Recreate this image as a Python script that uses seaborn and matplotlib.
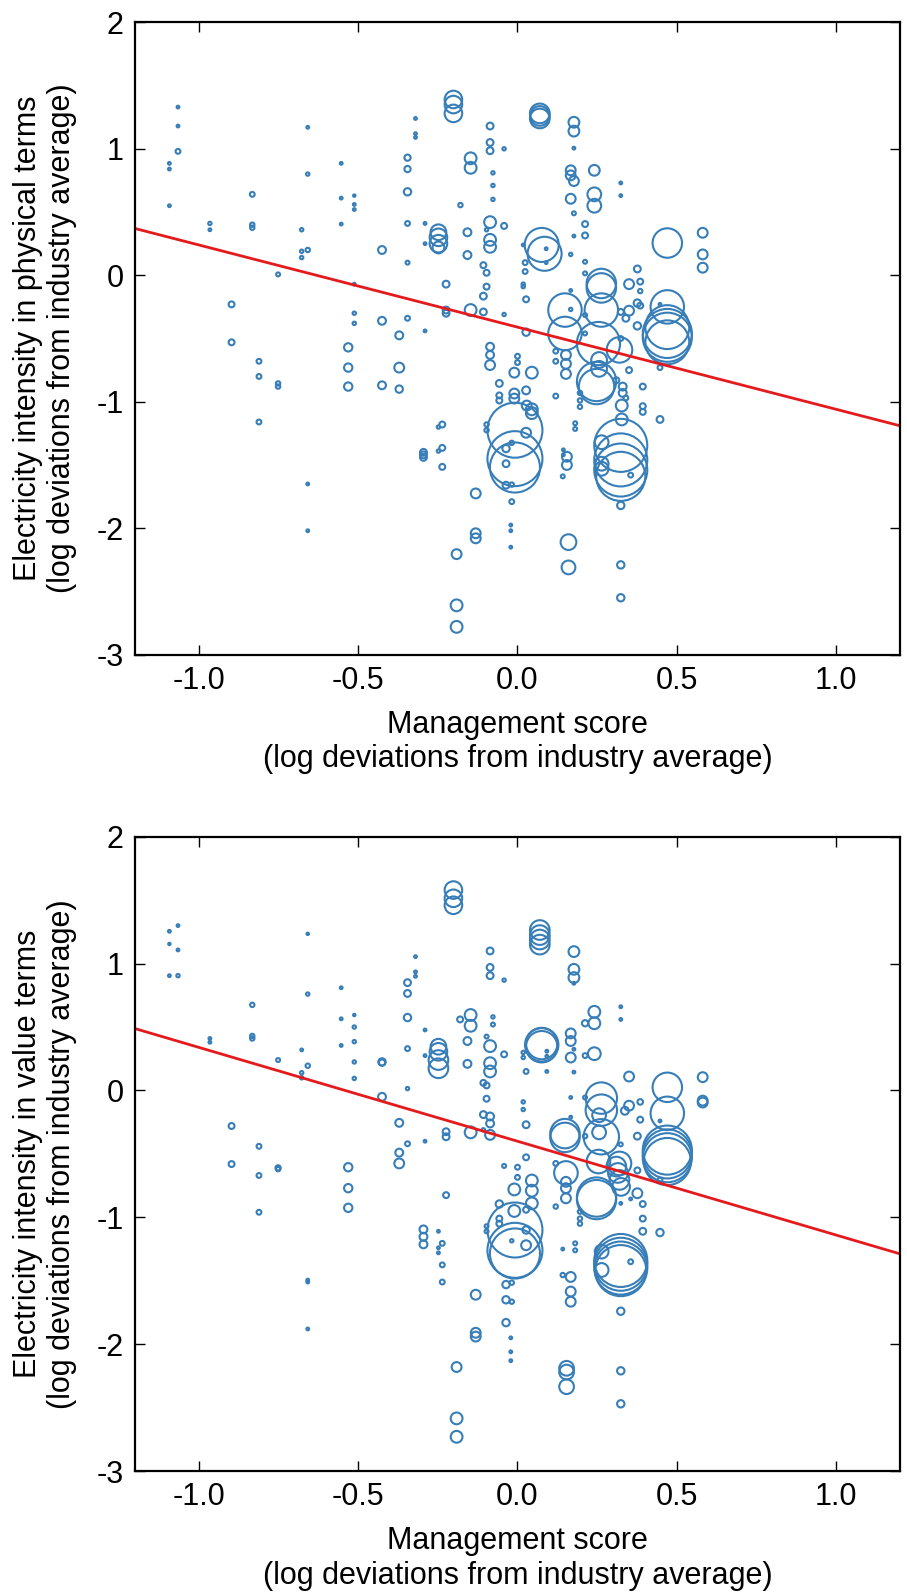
import numpy as np
import matplotlib
matplotlib.use("Agg")
import matplotlib.pyplot as plt
import seaborn as sns

# Panel A: electricity intensity in physical terms
phys_x = [
    -1.065, -1.065, -1.065, -1.092, -1.092, -1.092,
    -0.965, -0.965, -0.832, -0.832, -0.832, -0.897, -0.897,
    -0.811, -0.811, -0.811, -0.751, -0.751, -0.751,
    -0.658, -0.658, -0.677, -0.677, -0.658, -0.677, -0.658, -0.658,
    -0.553, -0.553, -0.553, -0.512, -0.512, -0.512, -0.512, -0.512, -0.512,
    -0.531, -0.531, -0.531, -0.425, -0.425, -0.425, -0.371, -0.371, -0.371,
    -0.345, -0.345, -0.345, -0.345, -0.345, -0.345, -0.32, -0.32, -0.32,
    -0.29, -0.29, -0.29, -0.295, -0.295, -0.295,
    -0.248, -0.248, -0.248, -0.248, -0.236, -0.248, -0.236, -0.248, -0.236,
    -0.224, -0.224, -0.224, -0.201, -0.201, -0.201, -0.191, -0.191, -0.191, -0.179,
    -0.157, -0.157, -0.147, -0.147, -0.147, -0.131, -0.131, -0.131,
    -0.086, -0.086, -0.086, -0.077, -0.077, -0.077, -0.086, -0.086, -0.086, -0.097,
    -0.107, -0.097, -0.097, -0.107, -0.107, -0.086, -0.086, -0.086, -0.097, -0.097,
    -0.042, -0.042, -0.042, -0.057, -0.057, -0.057, -0.036, -0.036, -0.036,
    0.0, 0.0, -0.01, -0.01, -0.01, -0.008, -0.008, -0.008, -0.018, -0.018, -0.018,
    -0.021, -0.021, -0.021, 0.018, 0.024, 0.024, 0.018, 0.018, 0.027,
    0.027, 0.027, 0.029, 0.027, 0.045, 0.045, 0.045,
    0.070, 0.070, 0.070, 0.076, 0.085, 0.090, 0.090,
    0.12, 0.12, 0.12, 0.144, 0.144, 0.155, 0.155, 0.142, 0.16, 0.16,
    0.177, 0.177, 0.177, 0.167, 0.167, 0.177, 0.167, 0.177, 0.177, 0.167, 0.167, 0.167,
    0.149, 0.149, 0.152, 0.152, 0.152, 0.181, 0.181, 0.196, 0.196, 0.196,
    0.212, 0.212, 0.212, 0.212, 0.212, 0.212, 0.241, 0.241, 0.241,
    0.263, 0.263, 0.263, 0.254, 0.248, 0.248, 0.256, 0.256, 0.264, 0.264, 0.264,
    0.324, 0.324, 0.324, 0.34, 0.35, 0.32, 0.324, 0.31, 0.33, 0.33, 0.34, 0.327, 0.327,
    0.35, 0.35, 0.324, 0.324, 0.324, 0.324, 0.355, 0.324, 0.324, 0.324,
    0.376, 0.385, 0.385, 0.376, 0.385, 0.376, 0.393, 0.393, 0.393, 0.447, 0.447, 0.447,
    0.47, 0.47, 0.47, 0.47, 0.47, 0.47, 0.581, 0.581, 0.581,
]
phys_y = [
    1.33, 1.18, 0.98, 0.885, 0.84, 0.55,
    0.41, 0.36, 0.64, 0.40, 0.376, -0.23, -0.53,
    -0.68, -0.80, -1.16, 0.007, -0.855, -0.88,
    1.17, 0.80, 0.36, 0.19, 0.20, 0.14, -1.65, -2.02,
    0.885, 0.61, 0.405, 0.63, 0.56, 0.52, -0.07, -0.30, -0.38,
    -0.57, -0.73, -0.88, 0.20, -0.36, -0.87, -0.475, -0.73, -0.90,
    0.93, 0.84, 0.66, 0.41, 0.10, -0.34, 1.24, 1.12, 1.09,
    0.41, 0.25, -0.44, -1.40, -1.42, -1.44,
    0.34, 0.30, 0.25, 0.22, -1.18, -1.20, -1.365, -1.39, -1.515,
    -0.07, -0.275, -0.30, 1.39, 1.35, 1.28, -2.205, -2.61, -2.78, 0.555,
    0.34, 0.16, 0.925, 0.85, -0.275, -1.725, -2.04, -2.08,
    1.18, 1.05, 0.985, 0.81, 0.71, 0.60, 0.42, 0.28, 0.225, 0.36,
    0.08, 0.02, -0.09, -0.165, -0.29, -0.565, -0.63, -0.71, -1.18, -1.225,
    1.00, 0.39, -0.31, -0.855, -0.95, -0.99, -1.37, -1.49, -1.66,
    -0.64, -0.69, -0.77, -0.935, -0.975, -1.225, -1.45, -1.52, -1.325, -1.655, -1.79,
    -1.975, -2.02, -2.15, 0.24, 0.10, 0.03, -0.07, -0.09, -0.19,
    -0.45, -0.91, -1.03, -1.245, -0.77, -1.06, -1.09,
    1.28, 1.26, 1.24, 0.24, 0.17, 0.21, 0.10,
    -0.955, -0.60, -0.68, -1.38, -1.42, -1.435, -1.50, -1.59, -2.11, -2.31,
    1.21, 1.14, 1.005, 0.83, 0.79, 0.745, 0.605, 0.49, 0.31, 0.165, -0.12, -0.27,
    -0.275, -0.46, -0.63, -0.70, -0.78, -1.17, -1.215, -0.93, -0.99, -1.04,
    0.405, 0.315, 0.107, 0.015, -0.315, -0.46, 0.83, 0.64, 0.55,
    -0.065, -0.10, -0.275, -0.54, -0.84, -0.88, -0.67, -0.74, -1.32, -1.49, -1.53,
    0.73, 0.63, -0.29, -0.34, -0.28, -0.59, -0.50, -0.83, -0.88, -0.93, -0.97, -1.03, -1.14,
    -0.07, -0.75, -1.345, -1.46, -1.54, -1.59, -1.58, -1.82, -2.29, -2.55,
    0.05, -0.05, -0.125, -0.22, -0.24, -0.40, -0.88, -1.035, -1.08, -1.14, -0.73, -0.23,
    0.255, -0.25, -0.41, -0.46, -0.49, -0.53, 0.336, 0.165, 0.06,
]
phys_w = [
    2, 2, 6, 2, 2, 2,
    3, 2, 6, 5, 5, 9, 9,
    6, 6, 6, 4, 5, 5,
    2, 3, 3, 3, 5, 3, 2, 2,
    2, 2, 2, 1.5, 2, 2, 2, 3, 3,
    18, 18, 18, 16, 16, 16, 16, 25, 14,
    10, 10, 14, 6, 4, 6, 2, 2, 2,
    2, 2, 2, 12, 12, 12,
    64, 80, 80, 36, 9, 3, 9, 3, 9,
    12, 12, 12, 80, 80, 80, 25, 36, 36, 5,
    16, 16, 36, 36, 36, 25, 25, 25,
    12, 12, 12, 3, 3, 3, 36, 36, 36, 3,
    9, 9, 9, 12, 12, 16, 16, 25, 5, 5,
    3, 9, 3, 12, 9, 9, 14, 12, 12,
    6, 6, 25, 25, 25, 784, 784, 650, 5, 5, 6,
    2, 2, 2, 2, 6, 6, 3, 3, 9,
    14, 16, 25, 25, 36, 36, 36,
    100, 100, 100, 300, 300, 2, 2,
    6, 6, 6, 2, 2, 25, 25, 4, 64, 49,
    30, 30, 2, 25, 25, 25, 25, 4, 2, 3, 2, 3,
    290, 290, 25, 25, 25, 4, 4, 5, 5, 5,
    9, 9, 4, 4, 4, 4, 30, 49, 49,
    225, 225, 290, 484, 400, 324, 64, 64, 49, 49, 49,
    2, 2, 9, 12, 25, 169, 6, 9, 16, 16, 6, 36, 36,
    25, 9, 729, 729, 729, 625, 6, 14, 14, 14,
    12, 9, 5, 14, 9, 14, 9, 9, 9, 12, 6, 2,
    225, 290, 500, 625, 625, 500, 25, 25, 25,
]

# Panel B: electricity intensity in value terms
value_x = [
    -1.065, -1.092, -1.092, -1.065, -1.092, -1.065,
    -0.965, -0.965, -0.832, -0.832, -0.832, -0.897, -0.897,
    -0.811, -0.811, -0.811, -0.751, -0.751, -0.751,
    -0.658, -0.658, -0.677, -0.658, -0.677, -0.677, -0.658, -0.658, -0.658,
    -0.553, -0.553, -0.553, -0.512, -0.512, -0.512, -0.512, -0.512,
    -0.531, -0.531, -0.531, -0.425, -0.425, -0.425, -0.371, -0.371, -0.371,
    -0.345, -0.345, -0.345, -0.345, -0.345, -0.345, -0.32, -0.32, -0.32,
    -0.29, -0.29, -0.29, -0.295, -0.295, -0.295,
    -0.248, -0.248, -0.248, -0.248, -0.248, -0.236, -0.248, -0.248, -0.236, -0.236,
    -0.224, -0.224, -0.224, -0.201, -0.201, -0.201, -0.191, -0.191, -0.191, -0.18,
    -0.157, -0.157, -0.147, -0.147, -0.147, -0.131, -0.131, -0.131,
    -0.086, -0.086, -0.086, -0.077, -0.077, -0.097, -0.086, -0.086, -0.086,
    -0.107, -0.097, -0.097, -0.107, -0.086, -0.086, -0.086, -0.107, -0.097, -0.097,
    -0.042, -0.042, -0.042, -0.057, -0.057, -0.057, -0.036, -0.036, -0.036,
    0.0, 0.0, -0.01, -0.01, -0.008, -0.008, -0.008, -0.018, -0.018, -0.018,
    -0.021, -0.021, -0.021, 0.018, 0.018, 0.027, 0.018, 0.018, 0.027, 0.027,
    0.027, 0.027, 0.027, 0.045, 0.045, 0.045,
    0.07, 0.07, 0.07, 0.07, 0.076, 0.076, 0.076, 0.092, 0.092, 0.092,
    0.12, 0.12, 0.142, 0.142, 0.167, 0.167, 0.167, 0.154, 0.154, 0.154,
    0.177, 0.177, 0.177, 0.177, 0.167, 0.167, 0.167, 0.177, 0.177, 0.167, 0.167,
    0.149, 0.149, 0.152, 0.152, 0.152, 0.152, 0.181, 0.181, 0.196, 0.196, 0.196,
    0.212, 0.212, 0.212, 0.212, 0.241, 0.241, 0.241,
    0.263, 0.263, 0.256, 0.256, 0.263, 0.254, 0.248, 0.248, 0.264, 0.264,
    0.324, 0.324, 0.35, 0.35, 0.337, 0.324, 0.32, 0.31, 0.315, 0.32, 0.325, 0.324, 0.355,
    0.324, 0.324, 0.324, 0.324, 0.355, 0.324, 0.324, 0.324,
    0.385, 0.385, 0.376, 0.376, 0.376, 0.393, 0.393, 0.393, 0.447, 0.447, 0.447,
    0.47, 0.47, 0.47, 0.47, 0.47, 0.47, 0.581, 0.581, 0.581,
]
value_y = [
    1.30, 1.255, 1.155, 1.108, 0.905, 0.905,
    0.41, 0.38, 0.675, 0.43, 0.41, -0.28, -0.58,
    -0.44, -0.67, -0.96, 0.24, -0.61, -0.62,
    1.235, 0.76, 0.32, 0.195, 0.14, 0.10, -1.495, -1.51, -1.88,
    0.81, 0.565, 0.355, 0.595, 0.50, 0.385, 0.225, 0.095,
    -0.605, -0.77, -0.925, 0.225, 0.22, -0.05, -0.255, -0.49, -0.575,
    0.85, 0.765, 0.575, 0.33, 0.015, -0.42, 1.055, 0.935, 0.90,
    0.477, 0.275, -0.40, -1.095, -1.153, -1.213,
    0.345, 0.305, 0.24, 0.175, -1.11, -1.205, -1.24, -1.28, -1.375, -1.51,
    -0.325, -0.365, -0.825, 1.58, 1.515, 1.46, -2.18, -2.585, -2.73, 0.56,
    0.39, 0.21, 0.595, 0.51, -0.33, -1.61, -1.91, -1.94,
    1.10, 0.97, 0.905, 0.58, 0.52, 0.425, 0.35, 0.215, 0.15,
    0.06, 0.04, -0.065, -0.19, -0.205, -0.26, -0.35, -0.31, -1.07, -1.11,
    0.87, 0.285, -0.595, -0.895, -1.01, -1.05, -1.53, -1.65, -1.83,
    -0.605, -0.685, -0.78, -0.95, -1.10, -1.26, -1.285, -1.185, -1.515, -1.665,
    -1.95, -2.06, -2.13, 0.30, 0.26, 0.15, -0.09, -0.15, -0.27, -0.527,
    -0.94, -1.10, -1.22, -0.71, -0.79, -0.89,
    1.265, 1.225, 1.19, 1.15, 0.37, 0.36, 0.345, 0.31, 0.27, 0.15,
    -0.575, -0.915, -1.25, -1.455, -1.47, -1.585, -1.665, -2.19, -2.22, -2.335,
    1.095, 0.955, 0.89, 0.845, 0.45, 0.39, 0.26, 0.325, 0.145, -0.055, -0.21,
    -0.34, -0.37, -0.65, -0.72, -0.77, -0.85, -1.205, -1.26, -0.955, -1.01, -1.05,
    0.53, 0.275, -0.055, -0.36, 0.62, 0.53, 0.29,
    -0.06, -0.155, -0.195, -0.33, -0.365, -0.56, -0.84, -0.86, -1.27, -1.415,
    0.66, 0.56, 0.11, -0.12, -0.16, -0.425, -0.575, -0.60, -0.65, -0.705, -0.76, -0.89, -0.855,
    -1.34, -1.37, -1.40, -1.42, -1.35, -1.74, -2.21, -2.47,
    -0.09, -0.23, -0.36, -0.63, -0.81, -0.895, -1.01, -1.11, -1.12, -0.705, -0.24,
    0.025, -0.18, -0.47, -0.50, -0.53, -0.56, 0.105, -0.08, -0.095,
]
value_w = [
    2, 2, 1.5, 2, 2, 3,
    2, 2, 5, 5, 5, 9, 9,
    6, 6, 6, 4, 7, 5,
    1.5, 3, 2, 5, 3, 3, 2, 2, 2,
    2, 2, 2, 1.5, 3, 3, 3, 3,
    18, 18, 18, 14, 10, 16, 16, 16, 25,
    12, 12, 14, 6, 3, 6, 2, 2, 2,
    2, 2, 2, 16, 16, 16,
    64, 80, 100, 100, 2, 6, 2, 2, 6, 6,
    12, 12, 9, 80, 80, 80, 25, 36, 36, 9,
    16, 16, 36, 36, 36, 25, 25, 25,
    12, 12, 12, 3, 4, 4, 36, 36, 36,
    9, 9, 9, 12, 16, 16, 25, 3, 4, 4,
    3, 9, 4, 14, 9, 9, 14, 14, 14,
    6, 6, 36, 36, 784, 784, 650, 3, 5, 5,
    2, 2, 2, 3, 3, 6, 3, 3, 12, 9,
    9, 14, 25, 36, 36, 36,
    100, 100, 100, 100, 256, 289, 256, 2, 2, 2,
    6, 5, 2, 5, 25, 25, 25, 56, 56, 56,
    30, 30, 30, 2, 25, 25, 25, 2, 2, 2, 2,
    225, 225, 144, 25, 25, 25, 4, 4, 5, 5, 5,
    10, 6, 4, 5, 36, 36, 42,
    256, 256, 49, 49, 324, 144, 400, 400, 49, 49,
    2, 2, 25, 25, 16, 4, 144, 100, 100, 100, 81, 2, 2,
    729, 729, 729, 676, 6, 14, 14, 14,
    8, 9, 12, 9, 25, 9, 9, 12, 14, 6, 2,
    225, 290, 625, 625, 625, 576, 25, 25, 25,
]

# fitted lines: (intercept, slope)
phys_fit = (-0.41, -0.65)
value_fit = (-0.40, -0.74)

ylabel_phys = "Electricity intensity in physical terms\n(log deviations from industry average)"
ylabel_value = "Electricity intensity in value terms\n(log deviations from industry average)"
xlabel = "Management score\n(log deviations from industry average)"
x_ticks = [-1.0, -0.5, 0.0, 0.5, 1.0]
y_ticks = [-3, -2, -1, 0, 1, 2]

BLUE = "#377eb8"
RED = "#e41a1c"
XLIM = (-1.2, 1.2)
YLIM = (-3, 2)

sns.set_style("ticks")
plt.rcParams["font.family"] = ["Liberation Sans", "DejaVu Sans"]
plt.rcParams["axes.unicode_minus"] = False
plt.rcParams["text.color"] = "black"
plt.rcParams["axes.labelcolor"] = "black"

w_max = max(max(phys_w), max(value_w))
# marker area (pt^2) proportional to weight
area_scale = 2.0


def draw_panel(ax, xs, ys, ws, fit, ylabel):
    sns.scatterplot(x=xs, y=ys, size=ws, sizes=(0, area_scale * w_max),
                    size_norm=(0, w_max), legend=False, marker="o",
                    linewidth=1.5, ax=ax)
    coll = ax.collections[-1]
    coll.set_facecolor("none")
    coll.set_edgecolor(BLUE)
    coll.set_linewidth(1.5)

    line_x = np.array(XLIM)
    sns.lineplot(x=line_x, y=fit[0] + fit[1] * line_x, color=RED, linewidth=2, ax=ax)

    ax.set_xlim(*XLIM)
    ax.set_ylim(*YLIM)
    ax.set_xticks(x_ticks)
    ax.set_xticklabels([f"{t:.1f}" for t in x_ticks])
    ax.set_yticks(y_ticks)
    ax.set_yticklabels([str(t) for t in y_ticks])
    ax.tick_params(direction="in", top=True, right=True, length=7, width=1,
                   labelsize=22, pad=8, colors="black")
    for sp in ax.spines.values():
        sp.set_linewidth(1.6)
        sp.set_color("black")
    ax.set_xlabel(xlabel, fontsize=22, labelpad=10, color="black")
    ax.set_ylabel(ylabel, fontsize=22, labelpad=14, color="black")


fig = plt.figure(figsize=(9.07, 15.96), dpi=100)
ax_top = fig.add_axes([0.1488, 0.5898, 0.8435, 0.3962])
ax_bot = fig.add_axes([0.1488, 0.0783, 0.8435, 0.3974])

draw_panel(ax_top, phys_x, phys_y, phys_w, phys_fit, ylabel_phys)
draw_panel(ax_bot, value_x, value_y, value_w, value_fit, ylabel_value)

fig.savefig("out.png", dpi=100)
